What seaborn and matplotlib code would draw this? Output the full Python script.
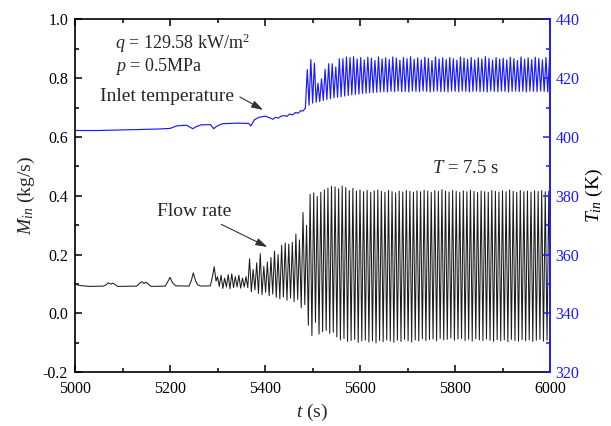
import numpy as np
import pandas as pd
import matplotlib
matplotlib.use("Agg")
import matplotlib.pyplot as plt
import seaborn as sns
from matplotlib.ticker import MultipleLocator

# ---------------- data ----------------
PERIOD = 7.5  # s, oscillation period stated on the chart

# flow rate before the regular oscillation (t in s, M in kg/s)
flow_pre_t = [5000, 5010, 5030, 5060, 5066, 5070, 5075, 5080, 5090, 5130, 5137, 5141,
              5145, 5150, 5160, 5190, 5196, 5200, 5205, 5212, 5240, 5245, 5249, 5254,
              5258, 5265, 5285, 5290, 5293, 5297]
flow_pre_m = [0.100, 0.095, 0.092, 0.093, 0.098, 0.104, 0.100, 0.103, 0.092, 0.093, 0.104, 0.108,
              0.102, 0.106, 0.092, 0.093, 0.110, 0.123, 0.105, 0.094, 0.093, 0.112, 0.138, 0.110,
              0.098, 0.093, 0.094, 0.130, 0.159, 0.110]

# flow rate oscillation: one peak and one trough per cycle
FLOW_OSC_START = 5300.0
flow_peaks = [0.125, 0.130, 0.120, 0.132, 0.135, 0.125, 0.130, 0.120, 0.125, 0.186,
              0.150, 0.172, 0.203, 0.160, 0.175, 0.190, 0.212, 0.200, 0.232, 0.240,
              0.236, 0.242, 0.270, 0.250, 0.343, 0.300, 0.405, 0.410, 0.398, 0.412,
              0.420, 0.426, 0.432, 0.430, 0.424, 0.433, 0.428, 0.418, 0.425, 0.416,
              0.420, 0.414, 0.418, 0.412, 0.417, 0.420, 0.415, 0.412, 0.418, 0.414,
              0.410, 0.416, 0.413, 0.418, 0.415, 0.412, 0.417, 0.414, 0.419, 0.416,
              0.412, 0.418, 0.415, 0.421, 0.416, 0.413, 0.418, 0.415, 0.412, 0.417,
              0.414, 0.419, 0.415, 0.411, 0.416, 0.414, 0.412, 0.418, 0.415, 0.413,
              0.417, 0.414, 0.420, 0.415, 0.412, 0.418, 0.414, 0.416, 0.413, 0.417,
              0.415, 0.418, 0.414, 0.416]
flow_troughs = [0.092, 0.085, 0.090, 0.084, 0.088, 0.090, 0.086, 0.090, 0.088, 0.074,
                0.080, 0.068, 0.064, 0.072, 0.060, 0.066, 0.055, 0.050, 0.056, 0.045,
                0.052, 0.040, 0.048, 0.020, 0.030, -0.040, -0.075, -0.030, -0.070, -0.062,
                -0.058, -0.068, -0.064, -0.080, -0.090, -0.085, -0.095, -0.092, -0.088, -0.098,
                -0.093, -0.090, -0.097, -0.094, -0.100, -0.092, -0.096, -0.090, -0.094, -0.098,
                -0.091, -0.095, -0.088, -0.093, -0.097, -0.090, -0.094, -0.086, -0.092, -0.089,
                -0.087, -0.093, -0.085, -0.090, -0.088, -0.084, -0.091, -0.087, -0.085, -0.092,
                -0.088, -0.094, -0.086, -0.090, -0.092, -0.087, -0.091, -0.095, -0.089, -0.093,
                -0.090, -0.096, -0.088, -0.092, -0.094, -0.089, -0.093, -0.090, -0.095, -0.091,
                -0.088, -0.094, -0.090, -0.092]

# inlet temperature before the oscillation (t in s, T in K)
temp_pre_t = [5000, 5050, 5100, 5150, 5176, 5200, 5215, 5235, 5248, 5255, 5265, 5285,
              5292, 5298, 5310, 5340, 5366, 5370, 5378, 5388, 5395, 5400, 5410, 5417,
              5422, 5428, 5433, 5440, 5446, 5452, 5458, 5464, 5470, 5476, 5480, 5485]
temp_pre_T = [402.2, 402.2, 402.4, 402.6, 402.7, 402.9, 403.8, 404.0, 402.8, 403.5, 404.1, 404.2,
              402.8, 403.6, 404.5, 404.7, 404.6, 403.7, 405.9, 406.7, 406.9, 407.1, 406.5, 406.0,
              406.7, 406.4, 407.0, 407.3, 407.0, 407.8, 407.5, 408.3, 408.1, 409.0, 408.8, 409.8]

TEMP_OSC_START = 5489.0
temp_peaks = [422.9, 426.3, 425.1, 418.3, 419.8, 423.0, 424.9, 424.9, 423.8, 426.6,
              426.6, 427.2, 427.0, 427.3, 426.5, 427.0, 426.2, 427.1, 426.8, 426.0,
              427.2, 426.5, 426.9, 426.3, 427.2, 426.8, 426.1, 427.0, 426.6, 427.3,
              426.4, 426.9, 426.2, 427.1, 426.7, 426.0, 427.2, 426.5, 426.9, 426.3,
              427.0, 426.6, 426.1, 427.2, 426.8, 426.4, 427.0, 426.2, 426.9, 426.5,
              427.3, 426.7, 426.1, 427.0, 426.5, 426.8, 426.2, 427.1, 426.6, 426.0,
              427.2, 426.4, 426.9, 426.3, 427.1, 426.7, 426.2, 427.0, 426.5]
temp_troughs = [410.8, 411.5, 411.8, 412.0, 412.4, 412.7, 413.0, 413.3, 413.5, 413.7,
                413.9, 414.1, 414.3, 414.5, 414.6, 414.8, 414.9, 415.0, 415.1, 415.2,
                415.3, 415.4, 415.3, 415.5, 415.4, 415.6, 415.4, 415.5, 415.3, 415.6,
                415.5, 415.4, 415.6, 415.5, 415.3, 415.5, 415.6, 415.4, 415.5, 415.3,
                415.6, 415.5, 415.4, 415.6, 415.5, 415.3, 415.5, 415.6, 415.4, 415.5,
                415.3, 415.6, 415.5, 415.4, 415.6, 415.5, 415.3, 415.5, 415.6, 415.4,
                415.5, 415.3, 415.6, 415.5, 415.4, 415.6, 415.5, 415.3, 415.5]


def osc_series(start, peaks, troughs):
    t, v = [], []
    for k, (p, q) in enumerate(zip(peaks, troughs)):
        t0 = start + k * PERIOD
        t += [t0, t0 + PERIOD / 2]
        v += [p, q]
    return t, v


ft, fv = osc_series(FLOW_OSC_START, flow_peaks, flow_troughs)
flow_df = pd.DataFrame({"t": flow_pre_t + ft, "M": flow_pre_m + fv})
tt, tv = osc_series(TEMP_OSC_START, temp_peaks, temp_troughs)
temp_df = pd.DataFrame({"t": temp_pre_t + tt, "T": temp_pre_T + tv})

# ---------------- style ----------------
sns.set_style("ticks")
plt.rcParams["font.family"] = ["Liberation Serif", "DejaVu Serif"]
plt.rcParams["mathtext.fontset"] = "custom"
plt.rcParams["mathtext.rm"] = "Liberation Serif"
plt.rcParams["mathtext.it"] = "Liberation Serif:italic"
plt.rcParams["axes.unicode_minus"] = False

BLUE = "#1a1aff"

fig = plt.figure(figsize=(6.11, 4.26), dpi=100)
ax = fig.add_axes([75 / 611, 1 - 372.3 / 426, 475 / 611, 353 / 426])
ax2 = ax.twinx()

sns.lineplot(data=flow_df, x="t", y="M", ax=ax, color="#1c1c1c", lw=0.75,
             estimator=None, sort=False)
sns.lineplot(data=temp_df, x="t", y="T", ax=ax2, color=BLUE, lw=0.85,
             estimator=None, sort=False)

ax.set_xlim(5000, 6000)
ax.set_ylim(-0.2, 1.0)
ax2.set_ylim(320, 440)

ax.xaxis.set_major_locator(MultipleLocator(200))
ax.xaxis.set_minor_locator(MultipleLocator(100))
ax.yaxis.set_major_locator(MultipleLocator(0.2))
ax.yaxis.set_minor_locator(MultipleLocator(0.1))
ax2.yaxis.set_major_locator(MultipleLocator(20))
ax2.yaxis.set_minor_locator(MultipleLocator(10))
ax.yaxis.set_major_formatter(matplotlib.ticker.FormatStrFormatter("%.1f"))

for s in ["left", "bottom", "top"]:
    ax.spines[s].set_linewidth(1.2)
    ax.spines[s].set_color("black")
ax.spines["right"].set_visible(False)
for s in ["left", "bottom", "top"]:
    ax2.spines[s].set_visible(False)
ax2.spines["right"].set_color(BLUE)
ax2.spines["right"].set_linewidth(1.4)

ax.tick_params(axis="both", which="both", direction="in", top=True, right=False,
               colors="black", labelsize=11.5, width=1.1)
ax.tick_params(axis="both", which="major", length=5)
ax.tick_params(axis="both", which="minor", length=3)
ax.tick_params(axis="y", pad=5)
ax.tick_params(axis="x", pad=6)
ax2.tick_params(axis="y", which="both", direction="in", colors=BLUE, labelcolor=BLUE,
                labelsize=11.5, width=1.1, pad=4)
ax2.tick_params(axis="y", which="major", length=5)
ax2.tick_params(axis="y", which="minor", length=3)

ax.set_xlabel(r"$t$ (s)", fontsize=14, labelpad=4)
ax.set_ylabel(r"$M_{in}$ (kg/s)", fontsize=14, labelpad=4)
ax2.set_ylabel(r"$T_{in}$ (K)", fontsize=14, color="black", labelpad=3)

# ---------------- annotations ----------------
ax.text(5085, 0.918, r"$q$ = 129.58 kW/m$^2$", fontsize=13, va="center", ha="left")
ax.text(5085, 0.838, r"$p$ = 0.5MPa", fontsize=13, va="center", ha="left")
ax.text(5752, 0.4925, r"$T$ = 7.5 s", fontsize=13.5, va="center", ha="left")

arrow = dict(arrowstyle="-|>,head_length=0.7,head_width=0.22", color="#333333", lw=0.8,
             shrinkA=0, shrinkB=0)
ax.text(5053, 0.736, "Inlet temperature", fontsize=14, va="center", ha="left")
ax.annotate("", xy=(5396, 0.692), xytext=(5347, 0.736), arrowprops=arrow)
ax.text(5172, 0.347, "Flow rate", fontsize=14, va="center", ha="left")
ax.annotate("", xy=(5405, 0.226), xytext=(5308, 0.303), arrowprops=arrow)

fig.savefig("out.png", dpi=100)
